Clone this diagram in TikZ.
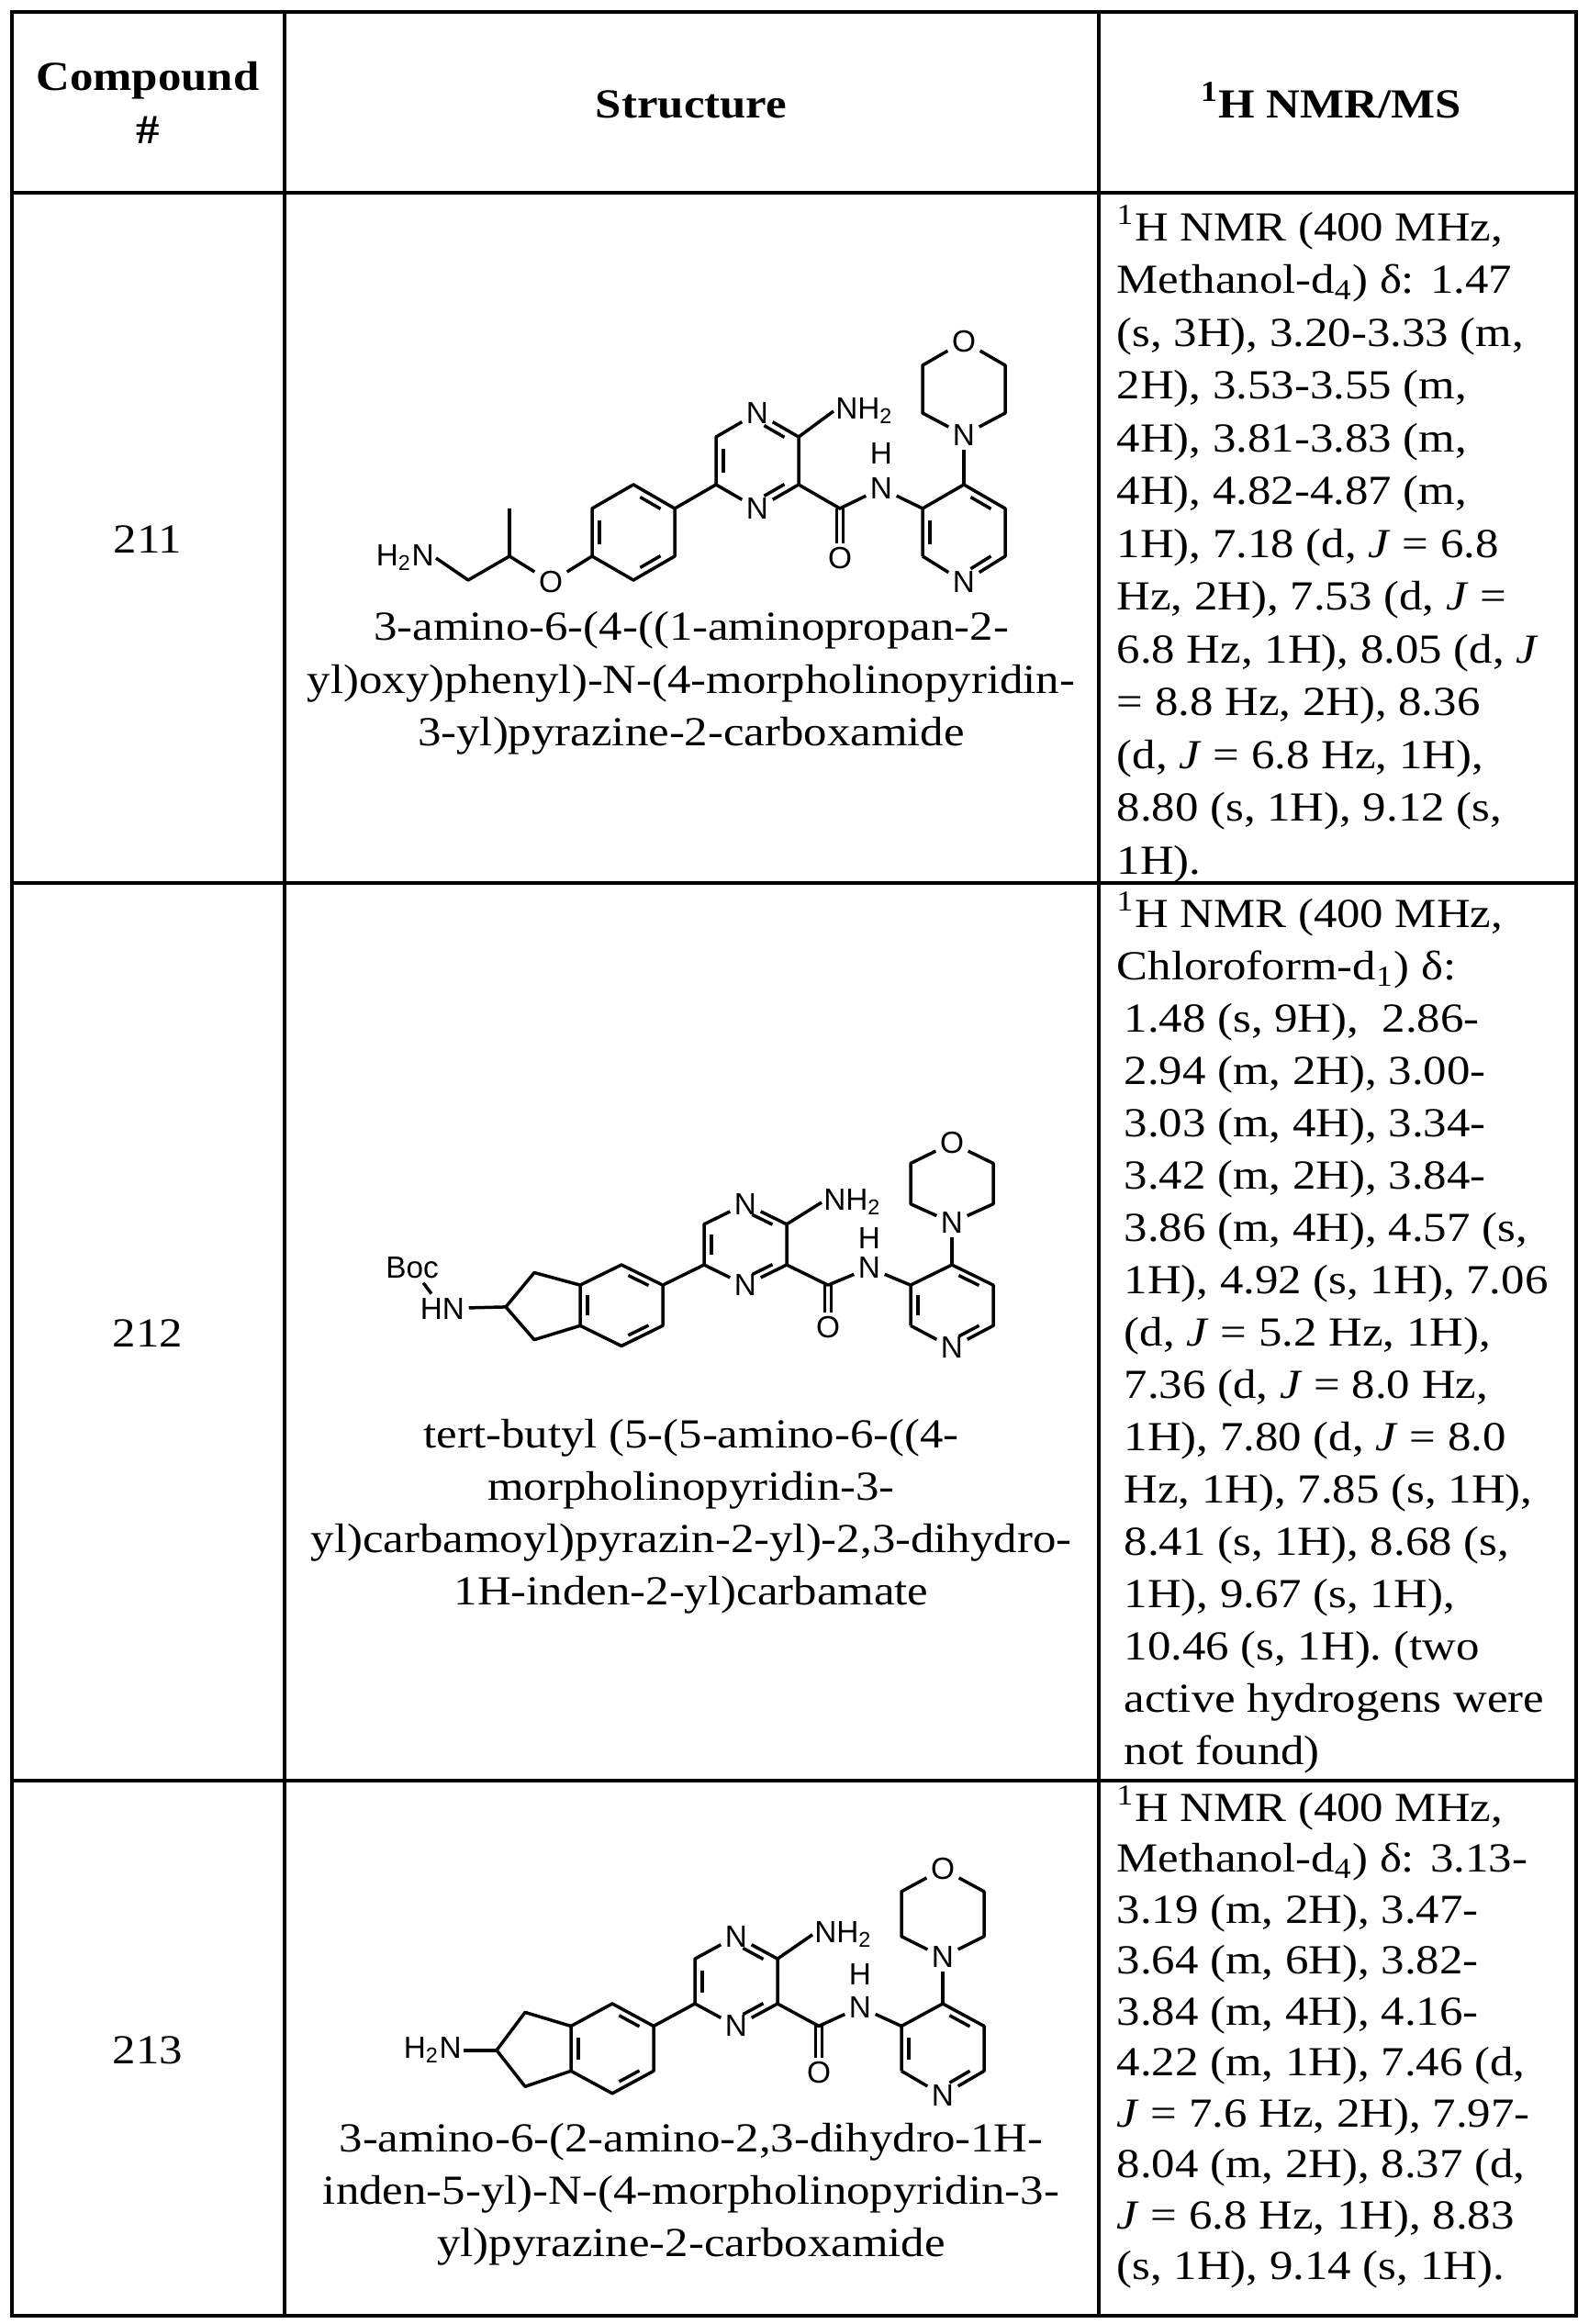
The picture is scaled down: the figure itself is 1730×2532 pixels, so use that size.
\documentclass[tikz,border=0pt]{standalone}
\usepackage{fontspec}
\setmainfont[FakeStretch=1.13]{Liberation Serif}
\newfontfamily\chemfont{Liberation Sans}
\usetikzlibrary{calc}
\tikzset{
  bond/.style={line width=1.05pt, line join=round},
  atom/.style={font=\chemfont\fontsize{10}{11}\selectfont, inner sep=1.2pt},
  txt/.style={font=\fontsize{13.5}{16}\selectfont, inner sep=0pt},
  hdr/.style={font=\bfseries\fontsize{13.5}{16}\selectfont, inner sep=0pt},
  grid/.style={line width=1.2pt}
}
\newcommand\ib[3]{\draw[bond] ($($(#1)!0.18!(#3)$)!0.2!($(#2)!0.18!(#3)$)$) -- ($($(#2)!0.18!(#3)$)!0.2!($(#1)!0.18!(#3)$)$);}
% core: pyrazine + amide + pyridine + morpholine; C6 of pyrazine at origin
\newcommand\molcore[4]{%
\begin{scope}[shift={(#2,#3)}, yscale=#4]
 \coordinate (#1c6) at (0,0); \coordinate (#1c5) at (0,-52);
 \coordinate (#1c3) at (90,-52); \coordinate (#1c2) at (90,0);
 \coordinate (#1pz) at (45,-26);
 \node[atom] (#1n4) at (45,-78) {N};
 \node[atom] (#1n1) at (45,26) {N};
 \node[atom, anchor=west, inner sep=0.5pt] (#1nh2) at (128,-80) {NH\textsubscript{2}};
 \coordinate (#1c7) at (135,26);
 \node[atom] (#1o) at (135,80) {O};
 \node[atom] (#1nh) at (180,4) {N};
 \node[atom] (#1nhh) at (180,-34) {H};
 \coordinate (#1p3) at (225,26); \coordinate (#1p4) at (270,0);
 \coordinate (#1p5) at (315,26); \coordinate (#1p6) at (315,78);
 \node[atom] (#1pn) at (270,106) {N};
 \coordinate (#1p2) at (225,78); \coordinate (#1pc) at (270,52);
 \node[atom] (#1mn) at (270,-54) {N};
 \coordinate (#1m1) at (225,-78); \coordinate (#1m2) at (315,-78);
 \coordinate (#1m3) at (225,-130); \coordinate (#1m4) at (315,-130);
 \node[atom] (#1mo) at (270,-156) {O};
\end{scope}
 \draw[bond] (#1c6) -- (#1c5) -- (#1n4);
 \draw[bond] (#1n4) -- (#1c3) -- (#1c2) -- (#1n1);
 \draw[bond] (#1n1) -- (#1c6);
 \draw[bond] (#1c3) -- (#1nh2.west);
 \draw[bond] (#1c2) -- (#1c7) -- (#1nh);
 \draw[bond] ($(#1c7)+(-3.5,0)$) -- ($(#1o.north)+(-3.5,0)$);
 \draw[bond] ($(#1c7)+(3.5,0)$) -- ($(#1o.north)+(3.5,0)$);
 \draw[bond] (#1nh) -- (#1p3);
 \draw[bond] (#1p2) -- (#1p3) -- (#1p4) -- (#1p5) -- (#1p6) -- (#1pn);
 \draw[bond] (#1pn) -- (#1p2);
 \draw[bond] (#1p4) -- (#1mn);
 \draw[bond] (#1mn) -- (#1m1) -- (#1m3) -- (#1mo);
 \draw[bond] (#1mn) -- (#1m2) -- (#1m4) -- (#1mo);
 \ib{#1c6}{#1c5}{#1pz} \ib{#1n4}{#1c3}{#1pz} \ib{#1c2}{#1n1}{#1pz}
 \ib{#1p4}{#1p5}{#1pc} \ib{#1p6}{#1pn}{#1pc} \ib{#1p2}{#1p3}{#1pc}
}
% benzene ring attached to C6 (left)
\newcommand\benz[4]{%
\begin{scope}[shift={(#2,#3)}, yscale=#4]
 \coordinate (#1a1) at (-45,26); \coordinate (#1a2) at (-90,0);
 \coordinate (#1a3) at (-135,26); \coordinate (#1a4) at (-135,78);
 \coordinate (#1a5) at (-90,104); \coordinate (#1a6) at (-45,78);
 \coordinate (#1ac) at (-90,52);
\end{scope}
 \draw[bond] (#1c6) -- (#1a1);
 \draw[bond] (#1a1) -- (#1a2) -- (#1a3) -- (#1a4) -- (#1a5) -- (#1a6) -- cycle;
 \ib{#1a2}{#1a1}{#1ac} \ib{#1a3}{#1a4}{#1ac} \ib{#1a5}{#1a6}{#1ac}
}
\newcommand\indane[4]{%
\begin{scope}[shift={(#2,#3)}, yscale=#4]
 \coordinate (#1t1) at (-185,10); \coordinate (#1t2) at (-216,54);
 \coordinate (#1t3) at (-185,96);
\end{scope}
 \draw[bond] (#1a3) -- (#1t1) -- (#1t2) -- (#1t3) -- (#1a4);
}
\begin{document}
\begin{tikzpicture}[x=0.3pt, y=-0.3pt]
\useasboundingbox (0,0) rectangle (1730,2532);
% table
\draw[grid] (13,13) rectangle (1717,2523);
\draw[grid] (310,13) -- (310,2523);
\draw[grid] (1197,13) -- (1197,2523);
\draw[grid] (13,210) -- (1717,210);
\draw[grid] (13,962) -- (1717,962);
\draw[grid] (13,1940) -- (1717,1940);
% header
\node[hdr, anchor=base] (h1a) at (161,98) {Compound};
\node[hdr, anchor=base] (h1b) at (161,156) {\#};
\node[hdr, anchor=base] (h2) at (753,128) {Structure};
\node[hdr, anchor=base] (h3) at (1450,128) {\textsuperscript{1}H NMR/MS};
% compound numbers
\node[txt, anchor=base] (n211) at (161,602) {211};
\node[txt, anchor=base] (n212) at (161,1467) {212};
\node[txt, anchor=base] (n213) at (161,2248) {213};

% ---------- 211 ----------
\molcore{A}{780}{528}{1}
\benz{A}{780}{528}{1}
\begin{scope}[shift={(780,528)}]
 \node[atom] (Aoe) at (-180,106) {O};
 \coordinate (Ach) at (-225,78); \coordinate (Ame) at (-225,26);
 \coordinate (Ach2) at (-270,104);
 \node[atom, anchor=east, inner sep=0.5pt] (Aam) at (-305,80) {H\textsubscript{2}N};
\end{scope}
\draw[bond] (Aa4) -- (Aoe) -- (Ach) -- (Ach2) -- (Aam.east);
\draw[bond] (Ach) -- (Ame);
\node[txt, anchor=base] (name211a) at (753,697) {3-amino-6-(4-((1-aminopropan-2-};
\node[txt, anchor=base] (name211b) at (753,755) {yl)oxy)phenyl)-N-(4-morpholinopyridin-};
\node[txt, anchor=base] (name211c) at (753,812) {3-yl)pyrazine-2-carboxamide};

% ---------- 212 ----------
\molcore{B}{767}{1378}{0.85}
\benz{B}{767}{1378}{0.85}
\indane{B}{767}{1378}{0.85}
\begin{scope}[shift={(767,1378)}, yscale=0.85]
 \node[atom] (Bhn) at (-285,56) {HN};
 \node[atom] (Bboc) at (-318,4) {Boc};
\end{scope}
\draw[bond] (Bt2) -- (Bhn);
\draw[bond] (Bhn) -- (Bboc);
\node[txt, anchor=base] (name212a) at (753,1577) {tert-butyl (5-(5-amino-6-((4-};
\node[txt, anchor=base] (name212b) at (753,1634) {morpholinopyridin-3-};
\node[txt, anchor=base] (name212c) at (753,1691) {yl)carbamoyl)pyrazin-2-yl)-2,3-dihydro-};
\node[txt, anchor=base] (name212d) at (753,1748) {1H-inden-2-yl)carbamate};

% ---------- 213 ----------
\molcore{C}{757}{2183}{0.94}
\benz{C}{757}{2183}{0.94}
\indane{C}{757}{2183}{0.94}
\begin{scope}[shift={(757,2183)}, yscale=0.94]
 \node[atom, anchor=east, inner sep=0.5pt] (Cam) at (-252,54) {H\textsubscript{2}N};
\end{scope}
\draw[bond] (Ct2) -- (Cam.east);
\node[txt, anchor=base] (name213a) at (753,2344) {3-amino-6-(2-amino-2,3-dihydro-1H-};
\node[txt, anchor=base] (name213b) at (753,2401) {inden-5-yl)-N-(4-morpholinopyridin-3-};
\node[txt, anchor=base] (name213c) at (753,2458) {yl)pyrazine-2-carboxamide};

% ---------- NMR ----------
\foreach \t [count=\i] in {
 {\textsuperscript{1}H NMR (400 MHz,},
 {Methanol-d\textsubscript{4}) δ: 1.47},
 {(s, 3H), 3.20-3.33 (m,},
 {2H), 3.53-3.55 (m,},
 {4H), 3.81-3.83 (m,},
 {4H), 4.82-4.87 (m,},
 {1H), 7.18 (d, \textit{J} = 6.8},
 {Hz, 2H), 7.53 (d, \textit{J} =},
 {6.8 Hz, 1H), 8.05 (d, \textit{J}},
 {= 8.8 Hz, 2H), 8.36},
 {(d, \textit{J} = 6.8 Hz, 1H),},
 {8.80 (s, 1H), 9.12 (s,},
 {1H).}}
 {\node[txt, anchor=base west] (r1l\i) at (1216,{262+57.5*(\i-1)}) {\t};}
\foreach \t [count=\i] in {
 {\textsuperscript{1}H NMR (400 MHz,},
 {Chloroform-d\textsubscript{1}) δ:},
 {1.48 (s, 9H),~ 2.86-},
 {2.94 (m, 2H), 3.00-},
 {3.03 (m, 4H), 3.34-},
 {3.42 (m, 2H), 3.84-},
 {3.86 (m, 4H), 4.57 (s,},
 {1H), 4.92 (s, 1H), 7.06},
 {(d, \textit{J} = 5.2 Hz, 1H),},
 {7.36 (d, \textit{J} = 8.0 Hz,},
 {1H), 7.80 (d, \textit{J} = 8.0},
 {Hz, 1H), 7.85 (s, 1H),},
 {8.41 (s, 1H), 8.68 (s,},
 {1H), 9.67 (s, 1H),},
 {10.46 (s, 1H). (two},
 {active hydrogens were},
 {not found)}}
 {\node[txt, anchor=base west] (r2l\i) at ({\i>2 ? 1224 : 1216},{1010+57*(\i-1)}) {\t};}
\foreach \t [count=\i] in {
 {\textsuperscript{1}H NMR (400 MHz,},
 {Methanol-d\textsubscript{4}) δ: 3.13-},
 {3.19 (m, 2H), 3.47-},
 {3.64 (m, 6H), 3.82-},
 {3.84 (m, 4H), 4.16-},
 {4.22 (m, 1H), 7.46 (d,},
 {\textit{J} = 7.6 Hz, 2H), 7.97-},
 {8.04 (m, 2H), 8.37 (d,},
 {\textit{J} = 6.8 Hz, 1H), 8.83},
 {(s, 1H), 9.14 (s, 1H).}}
 {\node[txt, anchor=base west] (r3l\i) at (1216,{1984+55.5*(\i-1)}) {\t};}
\end{tikzpicture}
\end{document}
